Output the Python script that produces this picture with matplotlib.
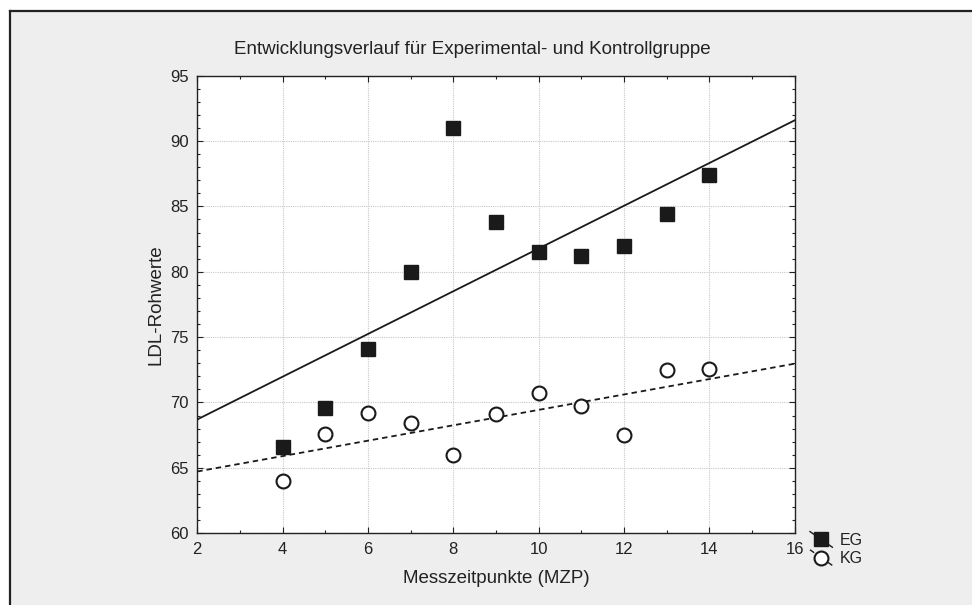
import numpy as np
import matplotlib
matplotlib.use("Agg")
import matplotlib.pyplot as plt
from matplotlib.lines import Line2D
from matplotlib.patches import Rectangle
from matplotlib.legend_handler import HandlerBase
from matplotlib.ticker import MultipleLocator

plt.rcParams['font.family'] = ['Liberation Sans', 'DejaVu Sans']

# ---- data ----
mzp = [4, 5, 6, 7, 8, 9, 10, 11, 12, 13, 14]
eg_values = [66.6, 69.6, 74.1, 80.0, 91.0, 83.8, 81.5, 81.2, 82.0, 84.4, 87.4]
kg_values = [64.0, 67.6, 69.2, 68.4, 66.0, 69.1, 70.7, 69.7, 67.5, 72.5, 72.6]
group_labels = ["EG", "KG"]
title = "Entwicklungsverlauf für Experimental- und Kontrollgruppe"
xlabel = "Messzeitpunkte (MZP)"
ylabel = "LDL-Rohwerte"
xlim = (2, 16)
ylim = (60, 95)

W, H = 972, 605
fig = plt.figure(figsize=(W / 100, H / 100), dpi=100)
fig.patch.set_facecolor('white')

# grey panel with left/top border
bx, by = 10 / W, 1 - 11 / H
fig.patches.append(Rectangle((bx, 0), 1 - bx, by, transform=fig.transFigure,
                             facecolor='#eeeeee', edgecolor='none', zorder=-10))
fig.lines.append(Line2D([bx, bx], [0, by], transform=fig.transFigure, color='#222222', lw=1.6))
fig.lines.append(Line2D([bx, 1], [by, by], transform=fig.transFigure, color='#222222', lw=1.6))

left, right = 197.3 / W, 794.7 / W
top, bottom = 1 - 75.7 / H, 1 - 533.2 / H
ax = fig.add_axes([left, bottom, right - left, top - bottom])
ax.set_facecolor('white')
ax.set_xlim(*xlim)
ax.set_ylim(*ylim)

ax.xaxis.set_major_locator(MultipleLocator(2))
ax.xaxis.set_minor_locator(MultipleLocator(1))
ax.yaxis.set_major_locator(MultipleLocator(5))
ax.yaxis.set_minor_locator(MultipleLocator(1))
ax.tick_params(which='both', direction='in', top=True, right=True, color='#222222',
               labelsize=12, labelcolor='#222222')
ax.tick_params(which='major', length=4, width=0.8, pad=6)
ax.tick_params(which='minor', length=2.5, width=0.8)
ax.grid(True, which='major', color='#c8c8c8', linestyle=(0, (1, 1)), linewidth=0.8)
ax.set_axisbelow(True)
for s in ax.spines.values():
    s.set_color('#222222')
    s.set_linewidth(1.0)

x = np.array(mzp, dtype=float)
xs = np.array(xlim, dtype=float)
eg_fit = np.polyfit(x, eg_values, 1)
kg_fit = np.polyfit(x, kg_values, 1)

ax.plot(xs, np.polyval(eg_fit, xs), color='#1a1a1a', lw=1.3, zorder=3)
ax.plot(xs, np.polyval(kg_fit, xs), color='#1a1a1a', lw=1.3, linestyle=(0, (3, 2.2)), zorder=3)
ax.plot(x, eg_values, linestyle='none', marker='s', ms=10, mfc='#1a1a1a', mec='#1a1a1a', zorder=4)
ax.plot(x, kg_values, linestyle='none', marker='o', ms=10, mfc='white', mec='#1a1a1a', mew=1.5, zorder=4)

ax.set_xlabel(xlabel, fontsize=13.5, color='#222222', labelpad=10)
ax.set_ylabel(ylabel, fontsize=13.5, color='#222222', labelpad=4)
fig.text(472 / W, 1 - 50 / H, title, ha='center', va='center', fontsize=13.5, color='#222222')


class DiagHandler(HandlerBase):
    def create_artists(self, legend, orig_handle, xdescent, ydescent, width, height, fontsize, trans):
        ls = orig_handle.get_linestyle()
        l = Line2D([-xdescent, -xdescent + width], [-ydescent + height * 1.2, -ydescent - height * 0.2],
                   color='#1a1a1a', lw=1.0, linestyle=ls)
        m = Line2D([-xdescent + width / 2], [-ydescent + height / 2], marker=orig_handle.get_marker(),
                   ms=orig_handle.get_markersize(), mfc=orig_handle.get_markerfacecolor(),
                   mec=orig_handle.get_markeredgecolor(), mew=orig_handle.get_markeredgewidth(),
                   linestyle='none')
        l.set_transform(trans)
        m.set_transform(trans)
        return [l, m]


h_eg = Line2D([], [], marker='s', ms=10, mfc='#1a1a1a', mec='#1a1a1a', linestyle='-')
h_kg = Line2D([], [], marker='o', ms=10, mfc='white', mec='#1a1a1a', mew=1.5, linestyle=(0, (2, 3)))
leg = fig.legend([h_eg, h_kg], group_labels, loc='upper left',
                 bbox_to_anchor=(810 / W, 1 - 533 / H), frameon=False,
                 handler_map={h_eg: DiagHandler(), h_kg: DiagHandler()},
                 handlelength=1.4, handletextpad=0.45, labelspacing=0.2, fontsize=11.5,
                 borderpad=0, borderaxespad=0)
for t in leg.get_texts():
    t.set_color('#222222')

fig.savefig('out.png', dpi=100, facecolor=fig.get_facecolor())
